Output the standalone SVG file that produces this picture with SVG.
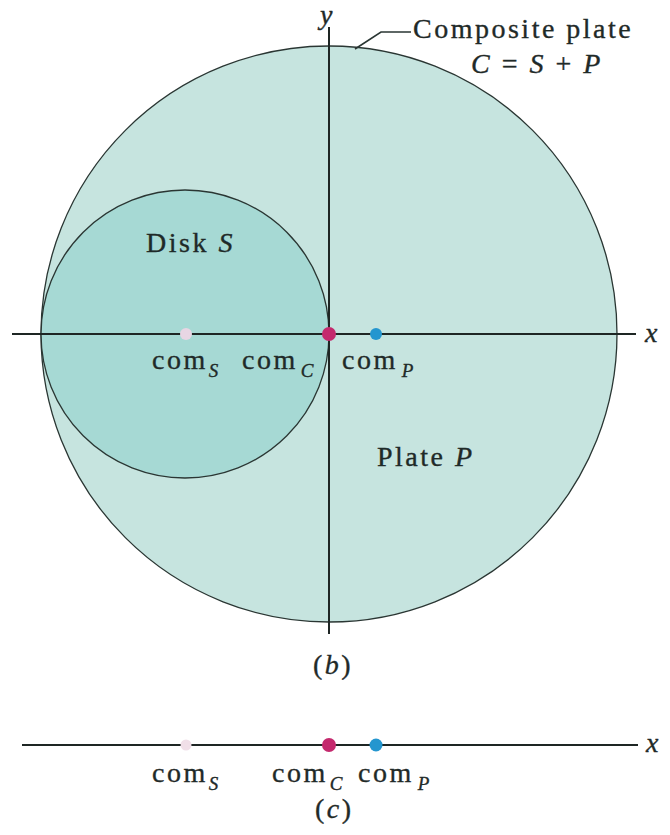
<svg xmlns="http://www.w3.org/2000/svg" width="670" height="835" viewBox="0 0 670 835">
<style>
text{font-family:"Liberation Serif","DejaVu Serif",serif;font-size:28px;fill:#1f2a28;stroke:#1f2a28;stroke-width:0.35;letter-spacing:2.5px}
.i{font-style:italic}
.sub{font-size:19px;font-style:italic;letter-spacing:0}
.ln{stroke:#1e2624;stroke-width:2;fill:none}
.edge{stroke:#2a3633;stroke-width:1.3}
</style>
<rect width="670" height="835" fill="#ffffff"/>
<g id="plateC">
<circle cx="329" cy="334" r="288" fill="#c6e4df" class="edge"/>
</g>
<g id="diskS">
<circle cx="185" cy="334" r="144" fill="#a6d9d4" class="edge"/>
<text x="146" y="252">Disk <tspan class="i">S</tspan></text>
</g>
<g id="connectors">
<line class="ln" x1="12" y1="334" x2="636" y2="334"/>
<line class="ln" x1="329" y1="27" x2="329" y2="634"/>
<polyline points="355,49 381,32 411,32" fill="none" stroke="#2a3633" stroke-width="1.6"/>
<line class="ln" x1="22" y1="745" x2="638" y2="745"/>
</g>
<g id="labels">
<text x="645" y="342" class="i">x</text>
<text x="320" y="24" class="i">y</text>
<text x="413" y="38">Composite plate</text>
<text x="471" y="73" class="i" letter-spacing="0.5">C<tspan font-style="normal"> = </tspan>S<tspan font-style="normal"> + </tspan>P</text>
<text x="377" y="466">Plate <tspan class="i">P</tspan></text>
<text x="313" y="674">(<tspan class="i">b</tspan>)</text>
</g>
<g id="comS">
<circle cx="186" cy="334" r="6" fill="#e8d6e4"/>
<text x="152" y="369">com<tspan class="sub" dx="1" dy="8">S</tspan></text>
</g>
<g id="comC">
<circle cx="329" cy="334" r="7" fill="#c4296d"/>
<text x="242" y="369">com<tspan class="sub" dx="3" dy="8">C</tspan></text>
</g>
<g id="comP">
<circle cx="376" cy="334" r="6" fill="#2496cf"/>
<text x="342" y="369">com<tspan class="sub" dx="4" dy="8">P</tspan></text>
</g>
<g id="panelC">
<circle cx="186" cy="745" r="5.5" fill="#f0dfe8"/>
<circle cx="329" cy="745" r="7" fill="#c4296d"/>
<circle cx="376" cy="745" r="6.5" fill="#2496cf"/>
<text x="646" y="752" class="i">x</text>
<text x="152" y="782">com<tspan class="sub" dx="1" dy="8">S</tspan></text>
<text x="272" y="782">com<tspan class="sub" dx="2" dy="8">C</tspan></text>
<text x="358" y="782">com<tspan class="sub" dx="4" dy="8">P</tspan></text>
<text x="315" y="818">(<tspan class="i">c</tspan>)</text>
</g>
</svg>
